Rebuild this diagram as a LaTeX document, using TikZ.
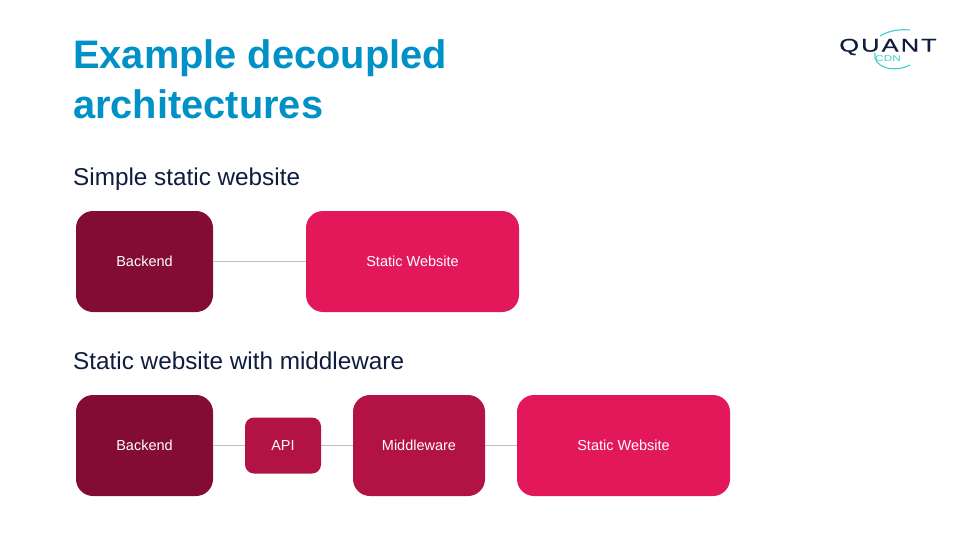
\documentclass[tikz,border=0pt]{standalone}
\usepackage{fontspec}
\setmainfont{Liberation Sans}
\newfontfamily\logofont[FakeStretch=1.38,LetterSpace=11,FakeBold=0.4]{Liberation Sans}
\newfontfamily\cdnfont[FakeStretch=1.38,LetterSpace=2]{Liberation Sans}
\usepackage{xcolor}
\usetikzlibrary{positioning}
\definecolor{titleblue}{HTML}{0091C6}
\definecolor{headnavy}{HTML}{101C3D}
\definecolor{backendred}{HTML}{820C34}
\definecolor{middlered}{HTML}{B31245}
\definecolor{staticred}{HTML}{E3185B}
\definecolor{logocyan}{HTML}{3CCFCF}

\begin{document}
\begin{tikzpicture}[
        x=1pt, y=-1pt,
        node distance=32pt,
        box/.style={rectangle, rounded corners=17pt, text=white, font=\fontsize{14.5}{17}\selectfont, minimum height=101pt, outer sep=0pt, inner sep=0pt},
        backend/.style={box, fill=backendred, minimum width=137pt},
        static/.style={box, fill=staticred, minimum width=213pt},
        middle/.style={box, fill=middlered, minimum width=132pt},
        api/.style={box, fill=middlered, minimum width=76pt, minimum height=56pt, rounded corners=9pt},
        heading/.style={anchor=base west, inner sep=0pt, text=headnavy, font=\fontsize{24.3}{29}\selectfont},
        titletext/.style={anchor=base west, inner sep=0pt, text=titleblue, font=\fontsize{39.8}{48}\selectfont\bfseries},
        link/.style={draw=black!25, line width=0.8pt}
    ]
        \useasboundingbox (0,0) rectangle (960,540);

        % Title
        \node[titletext] (title1) at (73,69) {Example decoupled};
        \node[titletext] (title2) at (73,119) {architectures};

        % Logo
        \node[inner sep=0pt, anchor=base, text=headnavy, font=\fontsize{18.5}{22}\logofont] (quant) at (888,51.7) {QUANT};
        \node[inner sep=0pt, anchor=base, text=logocyan, font=\fontsize{8.5}{10}\cdnfont] (cdn) at (888,61.5) {CDN};
        \draw[logocyan, line width=1.1pt] (880,36) .. controls (888,31) and (898,29) .. (910,30);
        \draw[logocyan, line width=1.1pt] (875,53) .. controls (872,66) and (892,74) .. (910,65);

        % Simple static website
        \node[heading] (simplehead) at (73,185.5) {Simple static website};
        \node[backend, anchor=north west] (backend1) at (76,211) {Backend};
        \node[static, right=93pt of backend1] (static1) {Static Website};
        \draw[link] (backend1) -- (static1);

        % Static website with middleware
        \node[heading] (middlehead) at (73,369.5) {Static website with middleware};
        \node[backend, anchor=north west] (backend2) at (76,395) {Backend};
        \node[api, right=of backend2] (api) {API};
        \node[middle, right=of api] (middleware) {Middleware};
        \node[static, right=of middleware] (static2) {Static Website};
        \draw[link] (backend2) -- (api);
        \draw[link] (api) -- (middleware);
        \draw[link] (middleware) -- (static2);
    \end{tikzpicture}
\end{document}
